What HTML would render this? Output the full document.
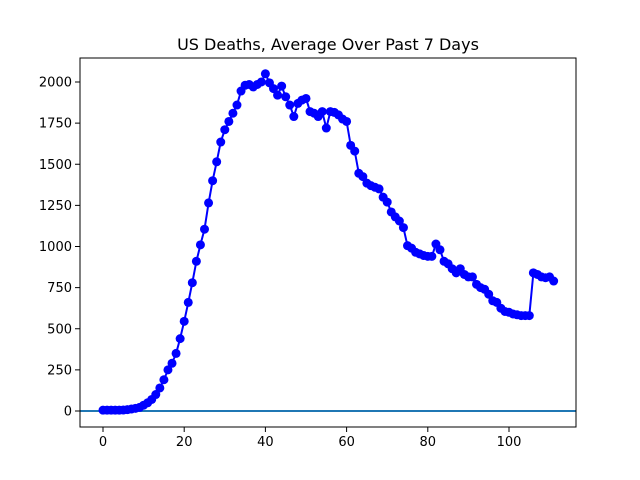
<!DOCTYPE html>
<html><head><meta charset="utf-8"><style>body{margin:0;background:#fff}svg{display:block}text{font-family:"DejaVu Sans","Liberation Sans",sans-serif}</style></head>
<body>
<svg id="s" width="640" height="480" viewBox="0 0 640 480" xmlns="http://www.w3.org/2000/svg">
<rect width="640" height="480" fill="#fff"/>
<text x="328" y="50" font-size="16" text-anchor="middle">US Deaths, Average Over Past 7 Days</text>
<line x1="80" y1="411" x2="576" y2="411" stroke="#1f77b4" stroke-width="2"/>
<g id="g"></g>
<rect x="80" y="58" width="496" height="369" fill="none" stroke="#000" stroke-width="1"/>
<g id="t" font-size="13" fill="#000"></g>
</svg>
<script>
var d=[5,5,5,5,5,6,8,12,16,22,35,50,70,100,140,190,250,290,350,440,545,660,780,910,1010,1105,1265,1400,1515,1635,1710,1760,1810,1860,1945,1980,1985,1970,1985,2000,2050,1995,1960,1920,1975,1910,1860,1790,1870,1890,1900,1820,1810,1790,1820,1720,1820,1815,1800,1775,1760,1615,1580,1445,1425,1385,1370,1360,1350,1300,1270,1210,1180,1155,1115,1005,990,965,955,945,940,940,1015,980,910,895,865,840,865,830,815,815,770,750,740,710,670,660,625,605,600,590,585,580,580,580,840,830,815,810,815,790];
function X(i){return 103+i*4.06}function Y(v){return 411-v*0.1645}
var ns="http://www.w3.org/2000/svg",g=document.getElementById('g'),p="";
d.forEach(function(v,i){p+=(i?"L":"M")+X(i).toFixed(1)+" "+Y(v).toFixed(1)});
var pa=document.createElementNS(ns,'path');pa.setAttribute('d',p);pa.setAttribute('stroke','#0000ff');pa.setAttribute('stroke-width','2');pa.setAttribute('fill','none');g.appendChild(pa);
d.forEach(function(v,i){var c=document.createElementNS(ns,'circle');c.setAttribute('cx',X(i));c.setAttribute('cy',Y(v));c.setAttribute('r',4.5);c.setAttribute('fill','#0000ff');g.appendChild(c)});
var t=document.getElementById('t'),h="";
for(var x=0;x<=100;x+=20){var px=X(x);h+='<line x1="'+px+'" y1="427" x2="'+px+'" y2="432" stroke="#000"/><text x="'+px+'" y="446" text-anchor="middle">'+x+'</text>'}
for(var y=0;y<=2000;y+=250){var py=Y(y);h+='<line x1="75" y1="'+py+'" x2="80" y2="'+py+'" stroke="#000"/><text x="72" y="'+(py+4.5)+'" text-anchor="end">'+y+'</text>'}
t.innerHTML=h;
</script>
</body></html>
